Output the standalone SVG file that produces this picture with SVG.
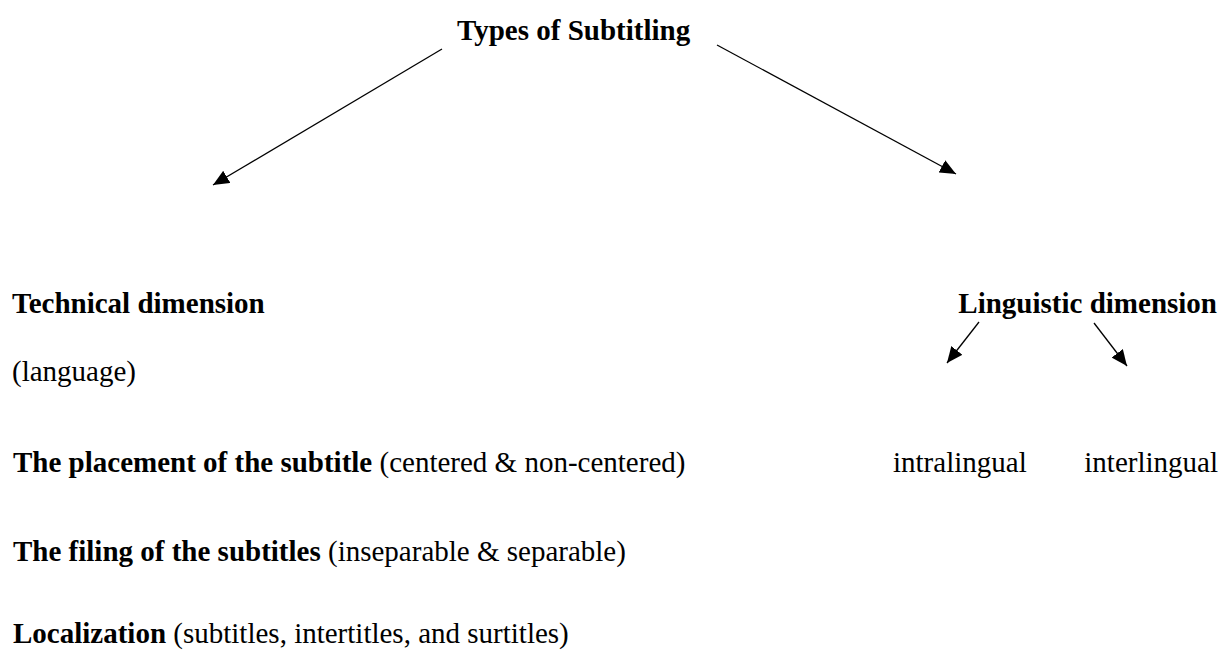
<svg xmlns="http://www.w3.org/2000/svg" width="1232" height="650" viewBox="0 0 1232 650">
  <style>
    text { font-family: "Liberation Serif", "Times New Roman", serif; font-size: 29px; fill: #000; }
    .b { font-weight: bold; }
    .edge { stroke: #000; stroke-width: 1.3; fill: none; marker-end: url(#head); }
  </style>
  <defs>
    <marker id="head" viewBox="0 0 16 14" refX="16" refY="7" markerWidth="16" markerHeight="14" markerUnits="userSpaceOnUse" orient="auto">
      <path d="M0,0 L16,7 L0,14 Z" fill="#000"/>
    </marker>
  </defs>
  <rect width="1232" height="650" fill="#fff"/>

  <!-- arrows from the title to both dimensions, then to the two language types -->
  <g id="connectors">
    <line class="edge" x1="442" y1="49" x2="213" y2="185"/>
    <line class="edge" x1="717" y1="45" x2="956" y2="174"/>
    <line class="edge" x1="979" y1="322" x2="947" y2="363"/>
    <line class="edge" x1="1094" y1="323" x2="1127" y2="366"/>
  </g>

  <g id="root">
    <text class="b" x="457" y="40">Types of Subtitling</text>
  </g>
  <g id="technical">
    <text class="b" x="12" y="313">Technical dimension</text>
  </g>
  <g id="linguistic">
    <text class="b" x="1217" y="313" text-anchor="end">Linguistic dimension</text>
  </g>
  <g id="language">
    <text x="12" y="381">(language)</text>
  </g>
  <g id="placement">
    <text x="13" y="472"><tspan class="b">The placement of the subtitle</tspan> (centered &amp; non-centered)</text>
  </g>
  <g id="intralingual">
    <text x="893" y="472">intralingual</text>
  </g>
  <g id="interlingual">
    <text x="1218" y="472" text-anchor="end">interlingual</text>
  </g>
  <g id="filing">
    <text x="13" y="561"><tspan class="b">The filing of the subtitles</tspan> (inseparable &amp; separable)</text>
  </g>
  <g id="localization">
    <text x="13" y="643"><tspan class="b">Localization</tspan> (subtitles, intertitles, and surtitles)</text>
  </g>
</svg>
